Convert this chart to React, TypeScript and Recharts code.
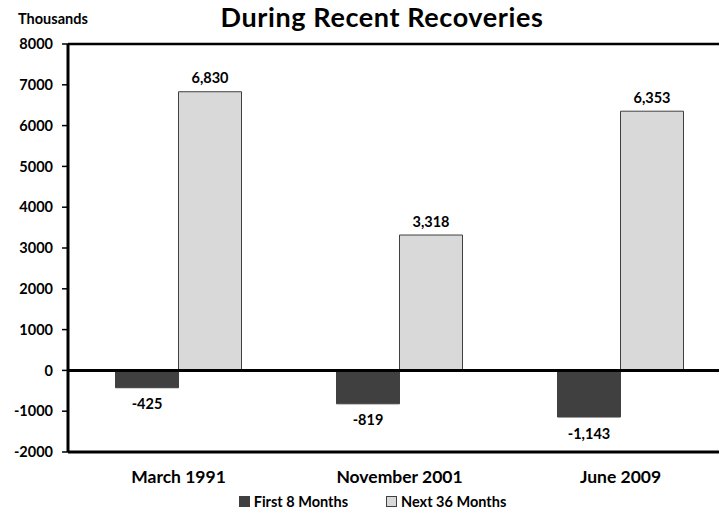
import {
  BarChart,
  Bar,
  XAxis,
  YAxis,
  Legend,
  LabelList,
  ReferenceLine,
} from "recharts";

const categories = ["March 1991", "November 2001", "June 2009"];
const first8Months = [-425, -819, -1143];
const next36Months = [6830, 3318, 6353];
const yTicks = [-2000, -1000, 0, 1000, 2000, 3000, 4000, 5000, 6000, 7000, 8000];

const data = categories.map((name, i) => ({
  name,
  first: first8Months[i],
  next: next36Months[i],
}));

const FONT = "Lato, 'Open Sans', sans-serif";

const ValueLabel = (props: any) => {
  const { x, y, width, height, value } = props;
  const top = Math.min(y, y + height);
  const bottom = Math.max(y, y + height);
  const cy = value < 0 ? bottom + 16 : top - 14;
  return (
    <text
      x={x + width / 2}
      y={cy}
      textAnchor="middle"
      dominantBaseline="central"
      fontFamily={FONT}
      fontWeight={700}
      fontSize={14.5}
      fill="#000"
    >
      {value.toLocaleString("en-US")}
    </text>
  );
};

const LegendBox = () => {
  const items = [
    { label: "First 8 Months", fill: "#404040" },
    { label: "Next 36 Months", fill: "#d9d9d9" },
  ];
  return (
    <div
      style={{
        display: "flex",
        justifyContent: "center",
        fontFamily: FONT,
        fontWeight: 700,
        fontSize: 14.5,
        color: "#000",
        paddingTop: 11,
        marginLeft: 14,
      }}
    >
      {items.map((it, i) => (
        <span
          key={it.label}
          style={{
            display: "flex",
            alignItems: "center",
            marginRight: i === 0 ? 38 : 0,
          }}
        >
          <span
            style={{
              display: "inline-block",
              width: 9,
              height: 9,
              background: it.fill,
              border: "1px solid #404040",
              marginRight: 4,
            }}
          />
          {it.label}
        </span>
      ))}
    </div>
  );
};

export default function App() {
  return (
    <div
      style={{
        position: "fixed",
        left: 0,
        top: 0,
        width: 719,
        height: 510,
        overflow: "hidden",
        background: "#fff",
      }}
    >
      <div
        style={{
          position: "absolute",
          left: 18,
          top: 10,
          fontFamily: FONT,
          fontWeight: 700,
          fontSize: 14.5,
        }}
      >
        Thousands
      </div>
      <div
        style={{
          position: "absolute",
          left: 0,
          width: 764,
          top: 0,
          textAlign: "center",
          fontFamily: FONT,
          fontWeight: 700,
          fontSize: 27,
          letterSpacing: 0.6,
        }}
      >
        During Recent Recoveries
      </div>
      <BarChart
        width={740}
        height={510}
        data={data}
        margin={{ top: 44, right: 9, left: 0, bottom: 0 }}
        barCategoryGap="21.5%"
        barGap={0}
      >
        <YAxis
          width={68}
          domain={[-2000, 8000]}
          ticks={yTicks}
          interval={0}
          axisLine={{ stroke: "#000", strokeWidth: 3 }}
          tickLine={{ stroke: "#000", strokeWidth: 1.5 }}
          tickSize={6}
          tickMargin={9}
          tick={{ fill: "#000", fontSize: 14.5, fontWeight: 700, fontFamily: FONT }}
        />
        <XAxis
          dataKey="name"
          height={30}
          axisLine={{ stroke: "#000", strokeWidth: 3 }}
          tickLine={false}
          tickMargin={13}
          tick={{ fill: "#000", fontSize: 17.5, fontWeight: 700, fontFamily: FONT }}
        />
        <ReferenceLine y={8000} stroke="#000" strokeWidth={2.5} />
        <ReferenceLine y={0} stroke="#000" strokeWidth={3} />
        <Legend verticalAlign="bottom" height={28} content={<LegendBox />} />
        <Bar
          dataKey="first"
          name="First 8 Months"
          fill="#404040"
          stroke="#404040"
          strokeWidth={1}
          isAnimationActive={false}
        >
          <LabelList dataKey="first" content={<ValueLabel />} />
        </Bar>
        <Bar
          dataKey="next"
          name="Next 36 Months"
          fill="#d9d9d9"
          stroke="#404040"
          strokeWidth={1}
          isAnimationActive={false}
        >
          <LabelList dataKey="next" content={<ValueLabel />} />
        </Bar>
      </BarChart>
    </div>
  );
}
